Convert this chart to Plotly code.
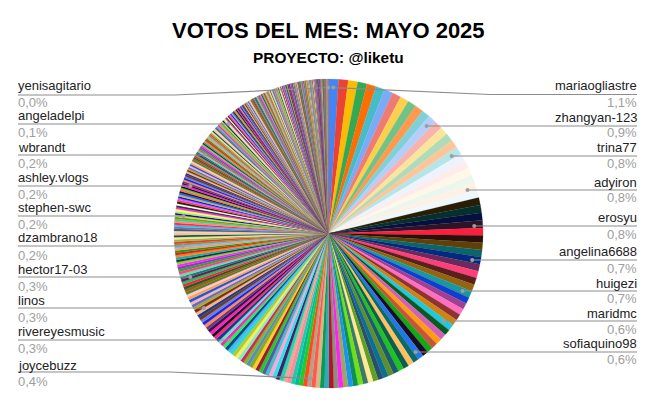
import plotly.graph_objects as go
import math

TITLE = "VOTOS DEL MES: MAYO 2025"
SUBTITLE = "PROYECTO: @liketu"

# share of votes of every participant, in percent, clockwise from the top
values_head = [1.05,1.02,1.00,.98,.96,.95,.93,.92,.91,.90,.89,.88,.88,.87,.86,.85,.85,.84,.83,.83,.82,.82,.81,.81,
               .80,.80,.80,.80,.77,.76,.76,.75,.75,.74,.74,.73,.73,.72,.68,.67,.66,.66,.65,.65,
               .64,.64,.64,.63,.63,.62,.62]
values_mid = [.61,.60,.60,.59,.58,.58,.57,.56,.55,.55,.54,.53,.52,.52,.51,.50,.50,.49,.48,.47,.46,.45,.44,
              .44,.43,.43,.42,.42,.41,.41,.40,.40,.39,.39,.38,.38,.37,.37,.37,.36,.36,.35,.35,.35,.34,.34,.34,.34,.33,.33,
              .33,.33,.33,.32,.32,.32,.32,.32,.31,.31,.31,.31,.31,.31,
              .30,.30,.30,.30,.29,.29,.29,.29,.28,.28,.28,.28,
              .27,.27,.27,.26,.26,.26,.25,.25,.25,.24,.24,.24,.24,.24,.23]
values_low = [.23,.23,.23,.22,.22,.22,.22,.22,.21,.21,.21,.21,.20,.20,.20,
              .20,.20,.20,.20,.20,.20,.19,.19,.19,.19,.19,.19,.18,.18,.18,.18,.18,.18,
              .18,.18,.18,.18,.18,.18,.17,.17,.17,.17,.17,.17,.17,.17,.16,.16,.16,.16,.16,.16,.16,.16,
              .16,.16,.16,.16,.15,.15,.15,.15,.15,.15,.15,.15,.15,.15,.14,.14,.14,.14,.14,.14,.14,.14,.13,.13,.13,.13,.13,.13]
values_tail = [.12,.12,.12,.12,.12,.12,.12,.12,.12,.12,.12,.12,
               .11,.11,.11,.11,.11,.11,.11,.11,.11,.11,.11,.11,.11,.11,
               .10,.10,.10,.10,.10,.10,.10,.10,.10,.10,.10,.10,.10,.10,
               .09,.09,.09,.09,.09,.09,.09,.09,.09,.09,.09,.09,.09,.09,
               .08,.08,.08,.08,.08,.08,.08,.08,.08,.08,.08,.08,.08,.08,
               .07,.07,.07,.07,.07,.07,.07,.07,.07,.07,.07,.07,.07,.07,
               .06,.06,.06,.06,.06,.06,.06,.06,.06,.06,.06,.06,.06,.06,
               .05,.05,.05,.05,.05,.05,.05,.05,.05,.05,.05,.05,.05,.05,.05,.05,.05,.05,.05,.05,
               .04,.04,.04,.04,.04,.04,.04,.04,.04,.04,.04,.04,.04,.04,.04,.04,.04,.04,.04,.04,.04,.04,.04,.04,.04,
               .03,.03,.03,.03,.03,.03,.03,.03,.03,.03,.03,.03,.03,.03,.03,.03,.03,.03,.03,.03,.03,.03,.03,.03,
               .02,.02,.02,.02,.02,.02,.02,.02,.02,.02,.02,.02,.02,.02,.02,.02,.02,.02,.02,.02,.02,.02,.02,.02,.02,.02,.02,.02,.02]

colors_head = ["#4285F4","#EA4335","#FBBC04","#34A853","#FF6D01","#46BDC6","#7BAAF7","#F07B72","#FCD04F","#71C287",
               "#FF994D","#7ED1D7","#B3CEFB","#F7B4AE","#FDE49B","#AEDCBA","#FFC599","#B5E5E7","#ECF3FE","#FDECEB",
               "#FFF8E6","#EBF6EE","#FFF0E6","#ECF8F9",
               "#2a1d06","#06302b","#051040","#2e1428","#ff1f3d","#2a0f0a","#5f4108","#0d6569","#002a80","#6a2a5c",
               "#ff3f7a","#5a211c","#94640f","#1b97a0","#0e3fd0","#a0408f","#ff6fc0","#8f3232","#cf8412","#20c8dc",
               "#0a5a20","#d060b8","#ff9d12","#c8553a","#12a818","#1d0a25","#2078e8"]
colors_mid = ["#0e6a6a","#ffc060","#0c5f4a","#1fc21f","#1d5a6e","#5f8f2a","#0b6f95","#27506e","#5f9f22","#ffe998",
              "#3d7a66","#6de016","#0e8f55","#1a94ee","#9aa85f","#ff22f0","#8c8c80","#b51420","#2fa8c4","#0b9a52",
              "#d6b884","#ff5a4c","#b5a08a","#ff4a20","#25cc20","#08b892","#14d0a8","#ff8a9c","#e6aa96","#22d4b0",
              "#43226a","#2ae4ec","#ffa4dc","#50b8c8","#4f5fa0","#28c828","#a01838","#ffcc22","#88aa22","#5090c0",
              "#88b030","#c83050","#90e8c0","#f0f060","#b8c828","#30d8d0","#40b8f0","#0a4a80","#22ee66","#ff22aa",
              "#6ee0d0","#1a3a8a","#ff2288"]
colors_low = ["#1a0a20","#ff22bb","#3a1050","#6a3a8a","#ff8a50","#1a22ee","#7080d0","#6a3a2a","#203a8a","#ffb08a",
              "#6a3a10","#b8a040","#5a70c0","#ffb0b0","#1a58e0","#ffa050","#ffc8d8","#5a8020","#a05a20","#206020",
              "#ff2040","#20c060","#701858","#108070","#70d8b0","#ff4088","#40a030","#8040c0","#ff22ff","#90d030",
              "#203050","#20b0a0","#ff8020","#e02020","#20a010","#f0a060","#7fb0ff","#a09020","#e04040","#8fbf40",
              "#ffe0a0","#10505a","#f0c890","#ffd0b0","#3a6080","#8a6aa0","#30c0ff","#ff3030","#ff80a0","#30e060",
              "#8a8a30","#d0e040","#1010a0","#a0f070","#ffff60","#ff30e0","#3a2a60","#ffffd0","#202020","#ff4050",
              "#d060ff","#1818ff","#c0c030","#3060ff","#102030","#ff7040","#70c040"]

# labelled participants: name, percentage text, slice position
names = ["mariaogliastre","zhangyan-123","trina77","adyiron","erosyu","angelina6688","huigezi","maridmc","sofiaquino98",
         "joycebuzz","rivereyesmusic","linos","hector17-03","dzambrano18","stephen-swc","ashley.vlogs","wbrandt","angeladelpi","yenisagitario"]
shares = ["1,1%","0,9%","0,8%","0,8%","0,8%","0,7%","0,7%","0,6%","0,6%",
          "0,4%","0,3%","0,3%","0,3%","0,2%","0,2%","0,2%","0,2%","0,1%","0,0%"]
slice_index = [0,12,17,22,27,32,37,43,50,73,99,113,125,140,155,173,195,223,417]

values = values_head + values_mid + values_low + values_tail + [0.02]
base = colors_head + colors_mid + colors_low
colors = [base[i] if i < len(base) else colors_low[(i - len(base)) % len(colors_low)] for i in range(len(values))]

# the page puts the figure 8 px in from its top-left corner
OFFSET = 8
W, H = 655 - OFFSET, 406 - OFFSET
CX, CY, R = 328.5, 233.5, 154.5
px = lambda x: (x - OFFSET) / W
py = lambda y: 1 - (y - OFFSET) / H

# layout of the callouts: y of the name, y of the share, y of the leader line, elbow x
right = len(names[:9])
name_y = [86,118,147,182,218,251,283,313,343, 365,331,300,269,238,208,178,147,115,86]
share_y = [102,133,164,198,234,268,298,329,359, 381,348,317,286,255,224,194,163,133,103]
line_y = [94.5,126,156,190,226,260,291,321,352, 372,340,308,277,246,216,186,155,124,95]
elbow_x = [490,None,None,None,None,None,None,None,None, 170,None,None,None,None,None,None,None,None,175]

fig = go.Figure(go.Pie(
    values=values, sort=False, direction="clockwise", rotation=0,
    marker=dict(colors=colors, line=dict(width=0.2, color=colors)),
    textinfo="none", hoverinfo="skip", showlegend=False,
    domain=dict(x=[px(CX - R), px(CX + R)], y=[py(CY + R), py(CY - R)]),
))

total = sum(values)
shapes, annotations = [], []
for k, (n, s, idx) in enumerate(zip(names, shares, slice_index)):
    mid = (sum(values[:idx]) + values[idx] / 2) / total * 2 * math.pi
    dx, dy = CX + 146 * math.sin(mid), CY - 146 * math.cos(mid)
    is_right = k < right
    end = 637 if is_right else 18
    text_x = 639 if is_right else 16
    ly = line_y[k]
    color = "#8c8c8c"
    if elbow_x[k] is None:
        path = f"M {px(dx)} {py(ly)} L {px(end)} {py(ly)}"
        dot_y = ly
    else:
        path = f"M {px(dx)} {py(dy)} L {px(elbow_x[k])} {py(ly)} L {px(end)} {py(ly)}"
        dot_y = dy
    shapes.append(dict(type="path", xref="paper", yref="paper", path=path, line=dict(color=color, width=1.2)))
    shapes.append(dict(type="circle", xref="paper", yref="paper", x0=px(dx - 2), x1=px(dx + 2),
                       y0=py(dot_y + 2), y1=py(dot_y - 2), fillcolor="#9e9e9e", line=dict(width=0)))
    anchor = "right" if is_right else "left"
    annotations.append(dict(text=n, x=px(text_x), y=py(name_y[k]), xref="paper", yref="paper", xanchor=anchor, yanchor="middle",
                            showarrow=False, font=dict(family="Liberation Sans", size=13, color="#222222")))
    annotations.append(dict(text=s, x=px(text_x), y=py(share_y[k]), xref="paper", yref="paper", xanchor=anchor, yanchor="middle",
                            showarrow=False, font=dict(family="Liberation Sans", size=13, color="#9e9e9e")))

annotations.append(dict(text=f"<b>{TITLE}</b>", x=px(328), y=py(31), xref="paper", yref="paper", xanchor="center", yanchor="middle",
                        showarrow=False, font=dict(family="Liberation Sans", size=22, color="#000000")))
annotations.append(dict(text=f"<b>{SUBTITLE}</b>", x=px(328), y=py(58), xref="paper", yref="paper", xanchor="center", yanchor="middle",
                        showarrow=False, font=dict(family="Liberation Sans", size=15.4, color="#000000")))

fig.update_layout(width=W, height=H, margin=dict(l=0, r=0, t=0, b=0), paper_bgcolor="#ffffff",
                  shapes=shapes, annotations=annotations)
fig.write_html("out.html")
